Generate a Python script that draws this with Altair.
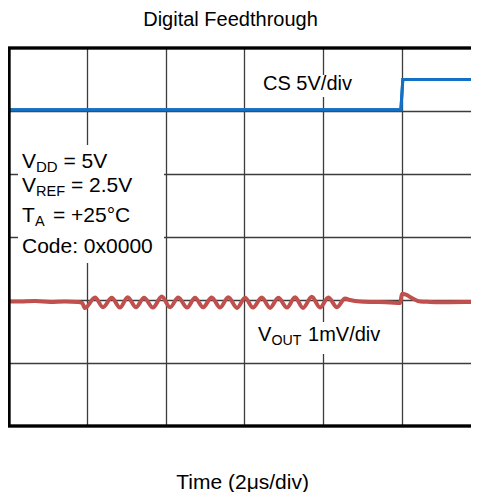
import altair as alt
import pandas as pd

# ---- data (time in microseconds, amplitude in scope divisions) ----
blue_t = [0, 9.97, 10.02, 11.75]
blue_v = [5.02, 5.02, 5.50, 5.50]

red_t = [0, 0.30, 0.69, 1.07, 1.45, 1.78, 1.88, 1.954,
         2.208, 2.411, 2.632, 2.843, 3.038, 3.249, 3.452, 3.680, 3.901, 4.112,
         4.322, 4.543, 4.746, 4.949, 5.170, 5.381, 5.591, 5.812, 6.015, 6.218,
         6.439, 6.650, 6.860, 7.081, 7.284, 7.487, 7.708, 7.919, 8.129, 8.350,
         8.553, 8.68, 8.93, 9.32, 9.70, 9.95,
         10.00, 10.10, 10.25, 10.46, 10.71, 11.22, 11.75]
red_v = [1.98, 1.975, 1.985, 1.97, 1.978, 1.97, 1.955, 1.872,
         2.04, 1.885, 2.035, 1.88, 2.045, 1.885, 2.035, 1.88, 2.055, 1.885,
         2.04, 1.88, 2.035, 1.885, 2.04, 1.88, 2.045, 1.875, 2.035, 1.88,
         2.04, 1.875, 2.035, 1.88, 2.045, 1.875, 2.05, 1.88, 2.04, 1.885,
         2.025, 2.0, 1.975, 1.968, 1.96, 1.952,
         2.10, 2.085, 2.03, 1.975, 1.97, 1.965, 1.968]

grid_x = [2, 4, 6, 8, 10]
grid_y = [1, 2, 3, 4, 5]

title_text = "Digital Feedthrough"
xtitle_text = "Time (2μs/div)"

# annotation texts (left aligned)
ann_label = ["V", "DD", "= 5V", "V", "REF", "= 2.5V", "T", "A", "= +25°C",
             "Code: 0x0000", "CS 5V/div", "V", "OUT", "1mV/div"]
ann_t = [0.355, 0.711, 1.409, 0.355, 0.711, 1.599, 0.355, 0.685, 1.142,
         0.355, 6.472, 6.345, 6.688, 7.614]
ann_v = [4.090, 4.027, 4.090, 3.719, 3.656, 3.719, 3.233, 3.170, 3.233,
         2.741, 5.333, 1.354, 1.286, 1.354]
ann_size = [21, 15, 21, 21, 14.5, 21, 21, 14.5, 21, 21, 20, 20, 14.2, 20]

# white label backgrounds
box_t = [0.254, 6.345, 6.218]
box_t2 = [3.959, 9.036, 9.695]
box_v = [4.460, 5.571, 1.651]
box_v2 = [2.587, 5.222, 1.143]

# centered titles
ttl_label = [title_text, xtitle_text]
ttl_t = [5.647, 5.954]
ttl_v = [6.35, -1.005]
ttl_size = [20, 21]

W, H = 463, 378
FONT = "Liberation Sans"
xs = alt.Scale(domain=[0, 11.75], nice=False, zero=False)
ys = alt.Scale(domain=[0, 6], nice=False, zero=False)

blue_df = pd.DataFrame({"t": blue_t, "v": blue_v})
red_df = pd.DataFrame({"t": red_t, "v": red_v})
ann_df = pd.DataFrame({"t": ann_t, "v": ann_v, "label": ann_label, "size": ann_size})
box_df = pd.DataFrame({"t": box_t, "t2": box_t2, "v": box_v, "v2": box_v2})
ttl_df = pd.DataFrame({"t": ttl_t, "v": ttl_v, "label": ttl_label, "size": ttl_size})

xaxis = alt.Axis(values=grid_x, grid=True, labels=False, ticks=False, domain=False,
                 title=None, gridColor="#3c3c3c", gridWidth=1.3)
yaxis = alt.Axis(values=grid_y, grid=True, labels=False, ticks=False, domain=False,
                 title=None, gridColor="#3c3c3c", gridWidth=1.3)

blue = alt.Chart(blue_df).mark_line(color="#1470C4", strokeWidth=3).encode(
    x=alt.X("t:Q", scale=xs, axis=xaxis),
    y=alt.Y("v:Q", scale=ys, axis=yaxis),
)

red = alt.Chart(red_df).mark_line(color="#C0504D", strokeWidth=4,
                                  interpolate="monotone").encode(
    x=alt.X("t:Q", scale=xs),
    y=alt.Y("v:Q", scale=ys),
)

boxes = alt.Chart(box_df).mark_rect(color="white").encode(
    x=alt.X("t:Q", scale=xs), x2="t2:Q",
    y=alt.Y("v:Q", scale=ys), y2="v2:Q",
)

ann = alt.Chart(ann_df).mark_text(align="left", baseline="alphabetic", font=FONT,
                                  color="black").encode(
    x=alt.X("t:Q", scale=xs),
    y=alt.Y("v:Q", scale=ys),
    text="label:N",
    size=alt.Size("size:Q", scale=None, legend=None),
)

ttl = alt.Chart(ttl_df).mark_text(align="center", baseline="alphabetic", font=FONT,
                                  color="black").encode(
    x=alt.X("t:Q", scale=xs),
    y=alt.Y("v:Q", scale=ys),
    text="label:N",
    size=alt.Size("size:Q", scale=None, legend=None),
)

frame_top = alt.Chart(blue_df).mark_rule(color="black", strokeWidth=2.5).encode(
    x=alt.value(0), x2=alt.value(W), y=alt.value(0))
frame_left = alt.Chart(blue_df).mark_rule(color="black", strokeWidth=2.5).encode(
    x=alt.value(1), y=alt.value(0), y2=alt.value(H))
frame_bottom = alt.Chart(blue_df).mark_rule(color="black", strokeWidth=2.5).encode(
    x=alt.value(0), x2=alt.value(W), y=alt.value(H))

chart = alt.layer(
    blue, boxes, ann, ttl, red, blue.encode(), frame_top, frame_left, frame_bottom
).properties(
    width=W, height=H,
    autosize=alt.AutoSizeParams(type="none"),
    padding={"left": 0, "top": 40, "right": 0, "bottom": 66},
    background="white",
).configure_view(stroke=None)

chart.save("out.html", embed_options={"renderer": "svg", "actions": False})
